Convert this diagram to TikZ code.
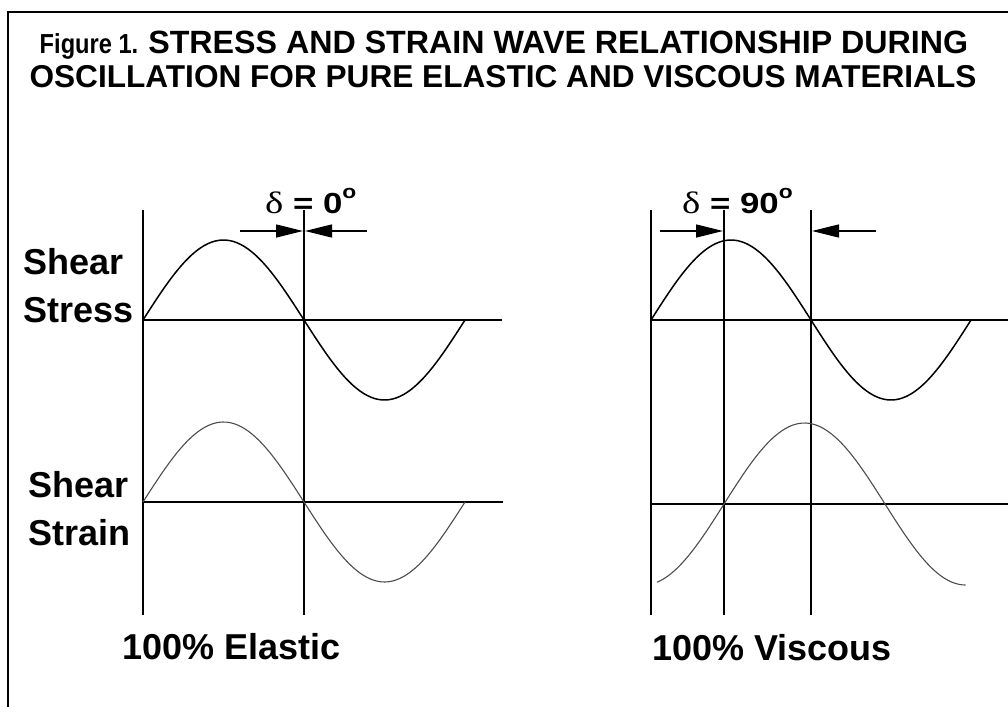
\documentclass[tikz,border=0pt]{standalone}
\usepackage{fontspec}
\setmainfont{Liberation Sans}
\newfontfamily\dfont[FakeStretch=1.2]{Liberation Sans}
\newfontfamily\dsym[FakeStretch=1.25]{Liberation Serif}
\newfontfamily\narrowfont[FakeStretch=0.86]{Liberation Sans}
\usetikzlibrary{arrows.meta,positioning}
\newcommand{\dlt}{{\dsym\mdseries\fontsize{31}{32}\selectfont δ}}
\newcommand{\dgr}{\raisebox{15pt}{\fontsize{19}{19}\selectfont o}}
\tikzset{
  frameline/.style={draw=black, line width=2.6pt},
  axisline/.style={draw=black, line width=1.3pt},
  zeroline/.style={draw=black, line width=1.6pt},
  stresswave/.style={draw=black, line width=1.5pt},
  strainwave/.style={draw=black!70, line width=1.1pt},
  delayarrow/.style={-{Triangle[length=27pt,width=13pt]}, draw=black, line width=1.3pt},
  ttl/.style={inner sep=0pt, anchor=base, font=\bfseries\fontsize{31.6}{36}\selectfont},
  lbl/.style={inner sep=0pt, anchor=base west, font=\bfseries\fontsize{36}{44}\selectfont},
  dlbl/.style={inner sep=0pt, anchor=base west, font=\dfont\bfseries\fontsize{29}{32}\selectfont}
}
\begin{document}
\begin{tikzpicture}[x=1pt, y=-1pt]
 \useasboundingbox (0,0) rectangle (1008,706);
 % frame, only left and top edges fall inside the page
 \coordinate (fbl) at (8,730); \coordinate (ftl) at (8,12); \coordinate (ftr) at (1030,12);
 \draw[frameline] (fbl) -- (ftl) -- (ftr);

 \node[ttl] (title1) at (504,54) {{\narrowfont\fontsize{27.5}{30}\selectfont Figure 1.}\hspace{10pt}{\fontsize{32.2}{36}\selectfont STRESS AND STRAIN WAVE RELATIONSHIP DURING}};
 \node[ttl] (title2) at (503,88) {OSCILLATION FOR PURE ELASTIC AND VISCOUS MATERIALS};

 % elastic panel
 \coordinate (eat) at (143,210); \coordinate (eab) at (143,615);
 \coordinate (emt) at (304,210); \coordinate (emb) at (304,615);
 \coordinate (ess) at (143,320); \coordinate (ese) at (502,320);
 \coordinate (ens) at (143,502); \coordinate (ene) at (503,502);
 \draw[axisline] (eat) -- (eab);
 \draw[axisline] (emt) -- (emb);
 \draw[zeroline] (ess) -- (ese);
 \draw[zeroline] (ens) -- (ene);
 \draw[stresswave] plot[domain=0:360, samples=90, smooth] ({143+\x/180*161}, {320-80*sin(\x)});
 \draw[strainwave] plot[domain=0:360, samples=90, smooth] ({143+\x/180*161}, {502-80*sin(\x)});

 \node[dlbl] (edelta) at (265,213) {\dlt{} = 0\dgr};
 \coordinate (eal) at (240,231); \coordinate (ear) at (367,231);
 \coordinate (ealt) at (303,231); \coordinate (eart) at (305,231);
 \draw[delayarrow] (eal) -- (ealt);
 \draw[delayarrow] (ear) -- (eart);

 \node[lbl] (shear1) at (23,274) {Shear};
 \node[lbl] (stress) at (23,322) {Stress};
 \node[lbl] (shear2) at (28,497) {Shear};
 \node[lbl] (strain) at (28,545) {Strain};
 \node[lbl] (elastic) at (122,659) {100\% Elastic};

 % viscous panel
 \coordinate (vat) at (651,210); \coordinate (vab) at (651,615);
 \coordinate (vmt) at (724,210); \coordinate (vmb) at (724,615);
 \coordinate (vrt) at (811,210); \coordinate (vrb) at (811,615);
 \coordinate (vss) at (651,320); \coordinate (vse) at (1008,320);
 \coordinate (vns) at (651,504); \coordinate (vne) at (1008,504);
 \draw[axisline] (vat) -- (vab);
 \draw[axisline] (vmt) -- (vmb);
 \draw[axisline] (vrt) -- (vrb);
 \draw[zeroline] (vss) -- (vse);
 \draw[zeroline] (vns) -- (vne);
 \draw[stresswave] plot[domain=0:360, samples=90, smooth] ({651+\x/180*160}, {320-80*sin(\x)});
 \draw[strainwave] plot[domain=-75:270, samples=90, smooth] ({724+\x/180*161}, {504-81*sin(\x)});

 \node[dlbl] (vdelta) at (682,213) {\dlt{} = 90\dgr};
 \coordinate (val) at (660,231); \coordinate (var) at (876,231);
 \coordinate (valt) at (723,231); \coordinate (vart) at (812,231);
 \draw[delayarrow] (val) -- (valt);
 \draw[delayarrow] (var) -- (vart);

 \node[lbl] (viscous) at (652,660) {100\% Viscous};
\end{tikzpicture}
\end{document}
